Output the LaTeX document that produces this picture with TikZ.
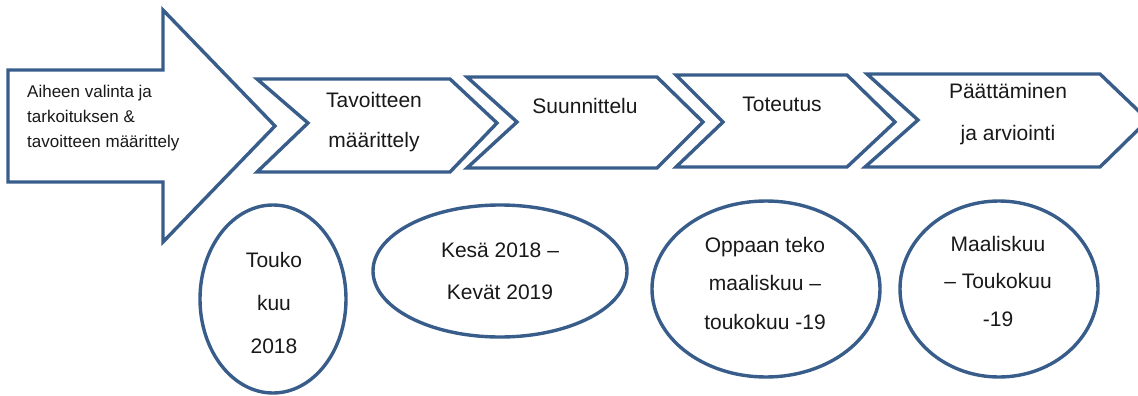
\documentclass[tikz,border=0pt]{standalone}
\usepackage{fontspec}
\setmainfont{Liberation Sans}
\definecolor{edge}{RGB}{56,93,138}
\definecolor{ink}{RGB}{25,25,25}
\begin{document}
\begin{tikzpicture}[x=1pt,y=-1pt,
  shp/.style={draw=edge, line width=3.4pt, fill=white, line join=miter},
  lbl/.style={font=\fontsize{21}{#1}\selectfont, align=center, text=ink, inner sep=0pt},
  lbl/.default=40]
\useasboundingbox (0,0) rectangle (1138,396);
\clip (0,0) rectangle (1138,396);
% big arrow
\draw[shp] (8,70) -- (163,70) -- (163,10) -- (275,126) -- (163,242) -- (163,182) -- (8,182) -- cycle;
\node[font=\fontsize{17}{25}\selectfont, align=left, text=ink, inner sep=0pt, anchor=west] (t0) at (27,118)
  {Aiheen valinta ja\\tarkoituksen \&\\tavoitteen määrittely};
% chevrons
\draw[shp] (257,79) -- (450,79) -- (497,123) -- (450,172) -- (257,172) -- (308,123) -- cycle;
\draw[shp] (467,77) -- (657,77) -- (703,122) -- (657,168) -- (467,168) -- (517,122) -- cycle;
\draw[shp] (676,75) -- (847,75) -- (895,122) -- (847,167) -- (676,167) -- (723,122) -- cycle;
\draw[shp] (867,74) -- (1100,74) -- (1148,120) -- (1100,167) -- (865,167) -- (918,120) -- cycle;
\node[lbl=40] (t1) at (374,122) {Tavoitteen\\määrittely};
\node[lbl] (t2) at (585,106) {Suunnittelu};
\node[lbl] (t3) at (782,104) {Toteutus};
\node[lbl=42] (t4) at (1008,114) {Päättäminen\\ja arviointi};
% ellipses
\draw[shp] (273,299) ellipse [x radius=73, y radius=94];
\draw[shp] (500,271) ellipse [x radius=127, y radius=66];
\draw[shp] (766,289) ellipse [x radius=114, y radius=88];
\draw[shp] (999,289) ellipse [x radius=99, y radius=88];
\node[lbl=43] (e1) at (274,303) {Touko\\kuu\\2018};
\node[lbl=42] (e2) at (500,271) {Kesä 2018 –\\Kevät 2019};
\node[lbl=38.5] (e3) at (765,283) {Oppaan teko\\maaliskuu –\\toukokuu -19};
\node[lbl=37.5] (e4) at (998,281) {Maaliskuu\\– Toukokuu\\-19};
\end{tikzpicture}
\end{document}
